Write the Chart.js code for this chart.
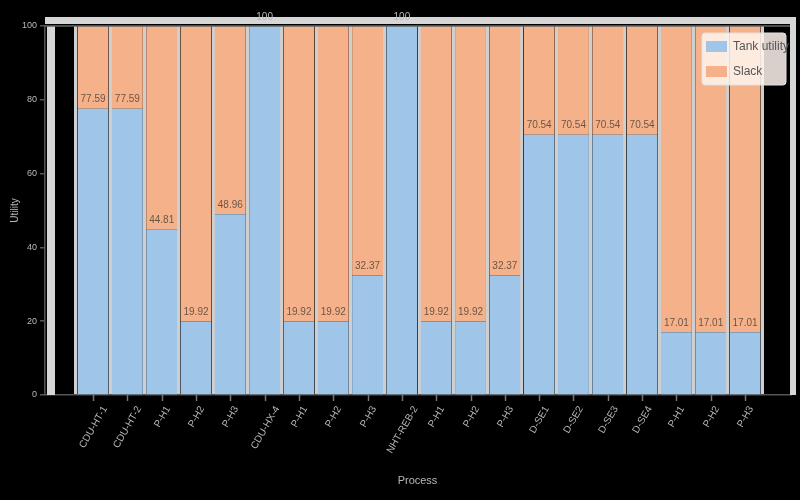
<!DOCTYPE html>
<html>
<head>
<meta charset="utf-8">
<script src="https://cdn.jsdelivr.net/npm/chart.js@4"></script>
<style>
  html, body { margin: 0; padding: 0; background: #000; }
  #wrap { width: 800px; height: 500px; }
</style>
</head>
<body>
<div id="wrap"><canvas id="c" width="800" height="500"></canvas></div>
<script>
const categories = ["CDU-HT-1", "CDU-HT-2", "P-H1", "P-H2", "P-H3", "CDU-HX-4", "P-H1", "P-H2", "P-H3", "NHT-REB-2",
                    "P-H1", "P-H2", "P-H3", "D-SE1", "D-SE2", "D-SE3", "D-SE4", "P-H1", "P-H2", "P-H3"];
const tankUtility = [77.59, 77.59, 44.81, 19.92, 48.96, 100, 19.92, 19.92, 32.37, 100,
                     19.92, 19.92, 32.37, 70.54, 70.54, 70.54, 70.54, 17.01, 17.01, 17.01];
const slack = [22.41, 22.41, 55.19, 80.08, 51.04, 0, 80.08, 80.08, 67.63, 0,
               80.08, 80.08, 67.63, 29.46, 29.46, 29.46, 29.46, 82.99, 82.99, 82.99];
const yTicks = [0, 20, 40, 60, 80, 100];
const seriesNames = ["Tank utility", "Slack"];
const xTitle = "Process";
const yTitle = "Utility";

const BLUE = "#9fc5e8";
const ORANGE = "#f5b28a";
const TEXT = "#b8b8b8";

const toPoints = arr => arr.map((v, i) => ({ x: i, y: v }));

const framePlugin = {
  id: "frame",
  beforeDatasetsDraw(chart) {
    const { ctx, chartArea: a } = chart;
    ctx.save();
    ctx.fillStyle = "#d6d6d6";
    ctx.fillRect(a.left, a.top - 9, a.right - a.left + 6, 7);
    ctx.fillRect(a.right, a.top - 9, 6, a.bottom - a.top + 9);
    ctx.fillRect(a.left + 2, a.top, 8, a.bottom - a.top);
    ctx.restore();
  },
  afterDraw(chart) {
    const { ctx, chartArea: a, scales } = chart;
    ctx.save();
    ctx.strokeStyle = "#666";
    ctx.lineWidth = 1.5;
    ctx.beginPath();
    ctx.moveTo(a.left, a.top);
    ctx.lineTo(a.right, a.top);
    ctx.stroke();
    // x tick marks and centred rotated labels
    ctx.lineWidth = 1.5;
    ctx.strokeStyle = "#777";
    ctx.font = "10px 'Liberation Sans', sans-serif";
    ctx.textAlign = "center";
    ctx.textBaseline = "middle";
    const ang = -60 * Math.PI / 180;
    categories.forEach((c, i) => {
      const x = Math.round(scales.x.getPixelForValue(i)) + 0.5;
      ctx.beginPath();
      ctx.moveTo(x, a.bottom);
      ctx.lineTo(x, a.bottom + 6);
      ctx.stroke();
      const w = ctx.measureText(c).width;
      const cy = a.bottom + 12 + (w / 2) * Math.sin(Math.PI / 3);
      ctx.save();
      ctx.translate(x, cy);
      ctx.rotate(ang);
      ctx.fillStyle = TEXT;
      ctx.fillText(c, 0, 0);
      ctx.restore();
    });
    // bar value labels
    const meta = chart.getDatasetMeta(0);
    ctx.font = "10px 'Liberation Sans Narrow', 'Liberation Sans', sans-serif";
    meta.data.forEach((el, i) => {
      const v = tankUtility[i];
      const full = v >= 100;
      ctx.fillStyle = full ? TEXT : "#6b5646";
      ctx.fillText(v % 1 === 0 ? String(v) : v.toFixed(2), el.x, el.y - 9);
    });
    // legend
    const lx = 702, ly = 33, lw = 84, lh = 52;
    ctx.fillStyle = "rgba(255,245,238,0.85)";
    ctx.strokeStyle = "#e0e0e0";
    ctx.lineWidth = 1;
    ctx.beginPath();
    ctx.roundRect(lx, ly, lw, lh, 3);
    ctx.fill();
    ctx.stroke();
    ctx.font = "12px 'Liberation Sans Narrow', 'Liberation Sans', sans-serif";
    ctx.textAlign = "left";
    const colors = [BLUE, ORANGE];
    seriesNames.forEach((n, k) => {
      const yy = ly + 13 + k * 25;
      ctx.fillStyle = colors[k];
      ctx.fillRect(lx + 4, yy - 5, 21, 11);
      ctx.fillStyle = "#555";
      ctx.fillText(n, lx + 31, yy + 1);
    });
    ctx.restore();
  }
};

new Chart(document.getElementById("c"), {
  type: "bar",
  data: {
    datasets: [
      { label: seriesNames[0], data: toPoints(tankUtility), backgroundColor: BLUE, borderWidth: 0,
        barPercentage: 0.9, categoryPercentage: 1.0 },
      { label: seriesNames[1], data: toPoints(slack), backgroundColor: ORANGE, borderWidth: 0,
        barPercentage: 0.9, categoryPercentage: 1.0 }
    ]
  },
  options: {
    responsive: false,
    animation: false,
    layout: { padding: { top: 26, right: 10, left: 0, bottom: 0 } },
    plugins: { legend: { display: false }, tooltip: { enabled: false } },
    scales: {
      x: {
        type: "linear",
        stacked: true,
        offset: false,
        min: -1.4,
        max: 20.31,
        afterBuildTicks(scale) {
          scale.ticks = categories.map((c, i) => ({ value: i }));
        },
        afterFit(scale) { scale.height = 105; },
        ticks: { display: false, includeBounds: false, autoSkip: false },
        grid: { offset: true, color: "#cfcfcf", lineWidth: 3, drawTicks: false },
        border: { display: true, color: "#555", width: 1.5 },
        title: { display: true, text: xTitle, color: TEXT, padding: { top: 4, bottom: 12 },
                 font: { size: 11, family: "'Liberation Sans', sans-serif" } }
      },
      y: {
        stacked: true,
        min: 0,
        max: 100,
        afterBuildTicks(scale) { scale.ticks = yTicks.map(v => ({ value: v })); },
        afterFit(scale) { scale.width = 45; },
        ticks: { color: TEXT, padding: 3, font: { size: 9, family: "'Liberation Sans', sans-serif" } },
        grid: { drawOnChartArea: false, drawTicks: true, tickLength: 5, color: "#555", lineWidth: 1.5 },
        border: { display: true, color: "#555", width: 1.5 },
        title: { display: true, text: yTitle, color: TEXT, padding: { top: 9, bottom: 0 },
                 font: { size: 10, family: "'Liberation Sans', sans-serif" } }
      }
    }
  },
  plugins: [framePlugin]
});
</script>
</body>
</html>
